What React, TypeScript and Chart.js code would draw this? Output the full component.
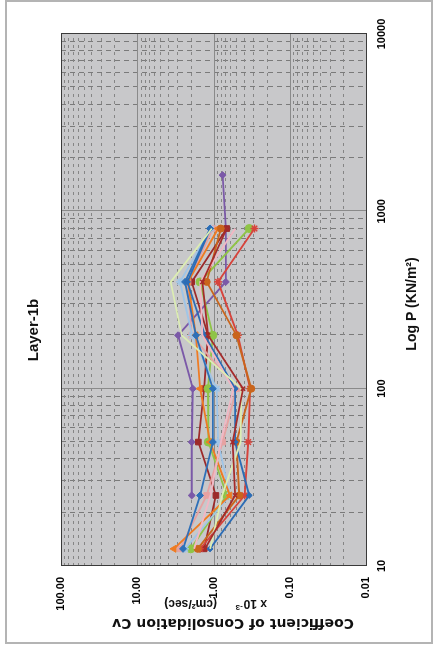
import React, { useEffect, useRef } from "react";
import { Chart, registerables } from "chart.js";

Chart.register(...registerables);

// Pressure (kN/m²) load steps
const pressures = [12.5, 25, 50, 100, 200, 400, 800, 1600];
const xTickLabels = [10, 100, 1000, 10000];
const yTickLabels = [0.01, 0.1, 1, 10, 100];

// Cv (x10^-3 cm²/sec) per sample
const purpleCv = [null, 1.93, 1.93, 1.87, 2.92, 0.69, 0.69, 0.76];
const blueCv = [2.51, 1.5, 1.02, 1.02, 1.7, 2.36, 1.11, null];
const darkRedSqCv = [1.33, 0.93, 1.58, 1.33, 1.18, 1.93, 0.67, null];
const greenCv = [1.99, 0.67, 1.17, 1.18, 1.02, 1.5, 0.34, null];
const orangeCv = [3.3, 0.61, 1.11, 1.5, 1.7, 2.16, 0.87, null];
const brownCv = [1.61, 0.46, 0.5, 0.32, 0.5, 1.23, 0.8, null];
const redCv = [1.5, 0.39, 0.35, 0.33, 0.48, 0.87, 0.29, null];
const lightBlueCv = [2.36, 0.61, 0.87, 0.91, 1.91, 2.75, 1.08, null];
const pinkCv = [2.75, 1.23, 0.76, 0.5, 1.93, 2.16, 1.02, null];
const paleGreenCv = [1.11, 0.77, 0.44, 0.43, 2.61, 3.64, 1.05, null];
const darkRed2Cv = [1.29, 0.52, 0.56, 0.41, 1.18, 1.4, 0.67, null];
const blue2Cv = [1.11, 0.34, 0.52, 0.52, 1.3, 2.2, 1.1, null];
const lightPinkCv = [1.8, 1.1, 0.8, 0.55, 1.4, 1.5, 0.52, null];

const seriesDefs = [
  { label: "S11", values: darkRed2Cv, color: "#a52b2b", style: "crossRot", r: 3 },
  { label: "S10", values: paleGreenCv, color: "#dcedb2", style: "circle", r: 0 },
  { label: "S13", values: lightPinkCv, color: "#f2b6c3", style: "circle", r: 0 },
  { label: "S12", values: blue2Cv, color: "#2b6cb5", style: "rectRot", r: 3 },
  { label: "S6", values: brownCv, color: "#c9651c", style: "circle", r: 3.5 },
  { label: "S7", values: redCv, color: "#d7433b", style: "star", r: 4 },
  { label: "S2", values: blueCv, color: "#2e70b8", style: "rectRot", r: 3.5 },
  { label: "S5", values: orangeCv, color: "#ef7b22", style: "triangle", r: 4 },
  { label: "S8", values: lightBlueCv, color: "#9fc5e8", style: "star", r: 4 },
  { label: "S9", values: pinkCv, color: "#e6a2a2", style: "rect", r: 4 },
  { label: "S4", values: greenCv, color: "#8fc447", style: "circle", r: 4 },
  { label: "S3", values: darkRedSqCv, color: "#9c2a2a", style: "rect", r: 4 },
  { label: "S1", values: purpleCv, color: "#7b59a8", style: "rectRot", r: 3.5 },
];

const decadesX = [10, 100, 1000];
const decadesY = [0.01, 0.1, 1, 10];

const frameGridPlugin = {
  id: "frameGrid",
  beforeDatasetsDraw(chart: any) {
    const { ctx, chartArea: a, scales } = chart;
    const xs = scales.x;
    const ys = scales.y;
    ctx.save();
    ctx.fillStyle = "#c8c8ca";
    ctx.fillRect(a.left, a.top, a.right - a.left, a.bottom - a.top);
    ctx.lineWidth = 1;
    // minor lines
    ctx.strokeStyle = "#7a7a7a";
    ctx.setLineDash([5, 4]);
    decadesX.forEach((d) => {
      for (let m = 2; m <= 9; m++) {
        const px = Math.round(xs.getPixelForValue(d * m)) + 0.5;
        ctx.beginPath();
        ctx.moveTo(px, a.top);
        ctx.lineTo(px, a.bottom);
        ctx.stroke();
      }
    });
    ctx.strokeStyle = "#858585";
    ctx.setLineDash([3, 4]);
    decadesY.forEach((d) => {
      for (let m = 2; m <= 9; m++) {
        const py = Math.round(ys.getPixelForValue(d * m)) + 0.5;
        ctx.beginPath();
        ctx.moveTo(a.left, py);
        ctx.lineTo(a.right, py);
        ctx.stroke();
      }
    });
    // major lines
    ctx.setLineDash([]);
    ctx.strokeStyle = "#8a8a8a";
    xTickLabels.forEach((v) => {
      const px = Math.round(xs.getPixelForValue(v)) + 0.5;
      ctx.beginPath();
      ctx.moveTo(px, a.top);
      ctx.lineTo(px, a.bottom);
      ctx.stroke();
    });
    yTickLabels.forEach((v) => {
      const py = Math.round(ys.getPixelForValue(v)) + 0.5;
      ctx.beginPath();
      ctx.moveTo(a.left, py);
      ctx.lineTo(a.right, py);
      ctx.stroke();
    });
    ctx.strokeStyle = "#3a3a3a";
    ctx.strokeRect(Math.round(a.left) + 0.5, Math.round(a.top) + 0.5, Math.round(a.right - a.left), Math.round(a.bottom - a.top));
    ctx.restore();
  },
  afterDraw(chart: any) {
    const { ctx } = chart;
    ctx.save();
    ctx.fillStyle = "#111";
    // Title
    ctx.font = "bold 15px 'Liberation Sans', Arial, sans-serif";
    ctx.textAlign = "center";
    ctx.textBaseline = "alphabetic";
    ctx.fillText("Layer-1b", 319, 37.5);
    // X axis title
    ctx.font = "bold 14px 'Liberation Sans', Arial, sans-serif";
    ctx.fillText("Log P (KN/m²)", 345, 416);
    // Y axis title, line 1
    ctx.save();
    ctx.translate(30, 0);
    ctx.rotate(-Math.PI / 2);
    ctx.font = "bold 14px 'DejaVu Sans', sans-serif";
    ctx.textAlign = "center";
    ctx.fillText("Coefficient of Consolidation Cv", -233, 0);
    ctx.restore();
    // Y axis title, line 2
    ctx.save();
    ctx.translate(49, 0);
    ctx.rotate(-Math.PI / 2);
    ctx.textAlign = "left";
    ctx.font = "bold 12px 'Liberation Sans', Arial, sans-serif";
    let x = -267;
    ctx.fillText("x 10", x, 0);
    x += ctx.measureText("x 10").width;
    ctx.font = "bold 8px 'Liberation Sans', Arial, sans-serif";
    ctx.fillText("-3", x + 1, -5);
    ctx.font = "bold 12px 'Liberation Sans', Arial, sans-serif";
    ctx.fillText("(cm²/sec)", -217, 0);
    ctx.restore();
    ctx.restore();
  },
};

export default function App() {
  const ref = useRef<HTMLCanvasElement>(null);
  useEffect(() => {
    const tickFont = { family: "'Liberation Sans', Arial, sans-serif", weight: "bold" as const, size: 11 };
    const datasets = seriesDefs.map((s) => ({
      label: s.label,
      data: pressures
        .map((p, i) => ({ x: p, y: s.values[i] }))
        .filter((d) => d.y !== null && d.y !== undefined),
      borderColor: s.color,
      backgroundColor: s.color,
      pointBackgroundColor: s.color,
      pointBorderColor: s.color,
      pointStyle: s.style,
      pointRadius: s.r,
      pointBorderWidth: s.style === "star" || s.style === "crossRot" ? 1.5 : 1,
      borderWidth: 1.8,
      tension: 0,
      fill: false,
    }));
    const chart = new Chart(ref.current as HTMLCanvasElement, {
      type: "line",
      data: { datasets },
      options: {
        responsive: false,
        maintainAspectRatio: false,
        devicePixelRatio: 1,
        animation: false,
        layout: { padding: { left: 0, right: 34, top: 61, bottom: 0 } },
        plugins: { legend: { display: false }, tooltip: { enabled: false }, title: { display: false } },
        scales: {
          x: {
            type: "logarithmic",
            position: "bottom",
            min: 10,
            max: 10000,
            grid: { display: false, drawTicks: false },
            border: { display: false },
            ticks: {
              font: tickFont,
              color: "#000",
              padding: 9,
              maxRotation: 0,
              autoSkip: false,
              callback: (v: any) => String(v),
            },
            afterBuildTicks: (s: any) => {
              s.ticks = xTickLabels.map((v) => ({ value: v }));
            },
            afterFit: (s: any) => {
              s.height = 72;
            },
          },
          y: {
            type: "logarithmic",
            position: "left",
            min: 0.01,
            max: 100,
            grid: { display: false, drawTicks: false },
            border: { display: false },
            ticks: {
              font: tickFont,
              color: "#000",
              padding: 11,
              autoSkip: false,
              callback: (v: any) => Number(v).toFixed(2),
            },
            afterBuildTicks: (s: any) => {
              s.ticks = yTickLabels.map((v) => ({ value: v }));
            },
            afterFit: (s: any) => {
              s.width = 83;
            },
          },
        },
      } as any,
      plugins: [frameGridPlugin],
    });
    return () => chart.destroy();
  }, []);

  return (
    <div style={{ position: "fixed", left: 0, top: 0, width: 438, height: 649, background: "#fff", overflow: "hidden" }}>
      <div
        style={{
          position: "absolute",
          left: 5,
          top: 0,
          width: 428,
          height: 644,
          border: "2px solid #b4b4b4",
          boxSizing: "border-box",
        }}
      />
      <div
        style={{
          position: "absolute",
          left: 0,
          top: 0,
          width: 649,
          height: 438,
          transformOrigin: "0 0",
          transform: "translate(0px, 649px) rotate(-90deg)",
        }}
      >
        <canvas ref={ref} width={649} height={438} style={{ width: 649, height: 438, display: "block" }} />
      </div>
    </div>
  );
}
